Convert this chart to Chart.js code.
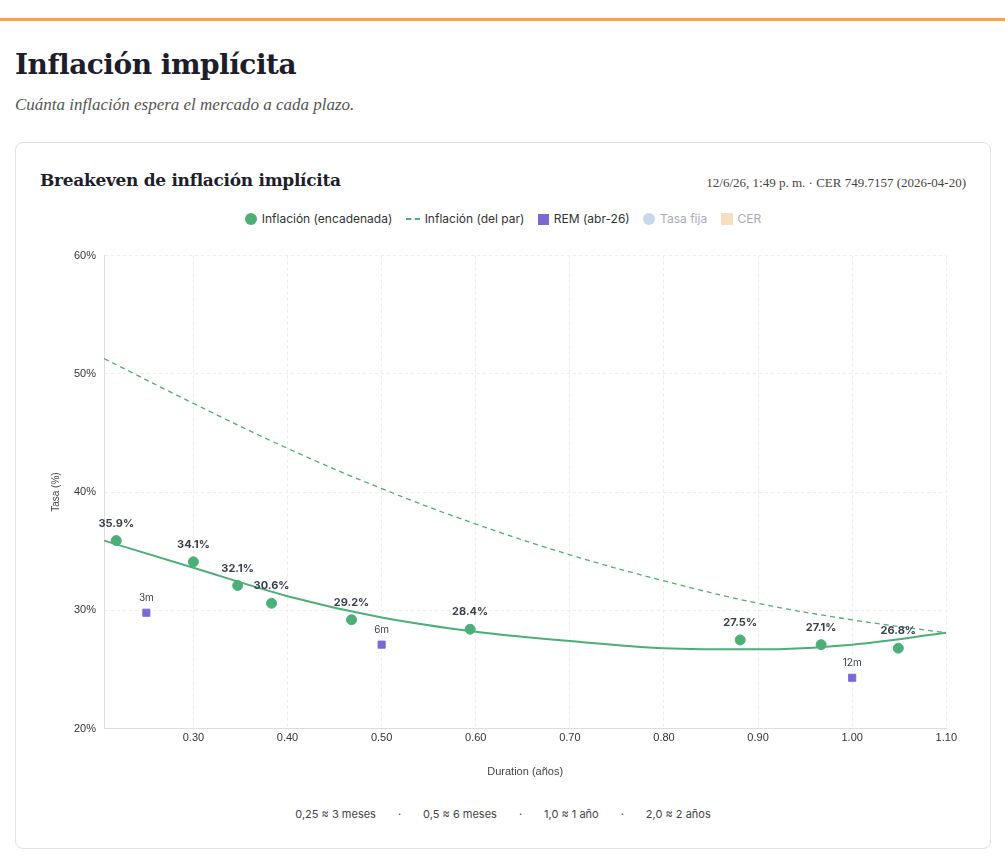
<!DOCTYPE html>
<html>
<head>
<meta charset="utf-8">
<script src="https://cdn.jsdelivr.net/npm/chart.js@4"></script>
<style>
  body { margin: 0; background: #fff; font-family: Inter, "Noto Sans", sans-serif; color: #1d1d2b; }
  .topbar { height: 3px; background: #f2a93b; margin-top: 18px; }
  h1 { font-family: "DejaVu Serif", "Liberation Serif", serif; font-size: 28px; margin: 27px 0 0 15px; font-weight: bold; letter-spacing: -0.5px; }
  .sub { font-family: "Liberation Serif", serif; font-style: italic; font-size: 17px; color: #555; margin: 14px 0 0 15px; }
  .card { position: absolute; left: 15px; top: 142px; width: 974px; height: 705px; border: 1px solid #e2e2e2; border-radius: 8px; }
  .ctitle { position: absolute; left: 24px; top: 27px; font-family: "DejaVu Serif", serif; font-weight: bold; font-size: 17px; letter-spacing: -0.3px; }
  .meta { position: absolute; right: 24px; top: 32px; font-family: "Liberation Serif", serif; font-size: 13px; color: #444; }
  .legend { position: absolute; top: 68px; left: 0; width: 100%; text-align: center; font-size: 12px; color: #333; }
  .legend span { margin: 0 5px; }
  .sw { display: inline-block; vertical-align: -2px; margin-right: 5px; }
  .foot { position: absolute; top: 664px; left: 0; width: 100%; text-align: center; font-size: 11px; color: #444; }
  .foot span { margin: 0 22px; }
  .wrap { position: absolute; left: 30px; top: 98px; width: 914px; height: 542px; }
</style>
</head>
<body>
<div class="topbar"></div>
<h1>Inflación implícita</h1>
<div class="sub">Cuánta inflación espera el mercado a cada plazo.</div>
<div class="card">
  <div class="ctitle">Breakeven de inflación implícita</div>
  <div class="meta">12/6/26, 1:49 p. m. · CER 749.7157 (2026-04-20)</div>
  <div class="legend">
    <span><i class="sw" style="width:12px;height:12px;border-radius:50%;background:#4caf78"></i>Inflación (encadenada)</span>
    <span><i class="sw" style="width:14px;border-top:2px dashed #4caf78;vertical-align:3px"></i>Inflación (del par)</span>
    <span><i class="sw" style="width:11px;height:11px;background:#7b68d6"></i>REM (abr-26)</span>
    <span style="color:#aab"><i class="sw" style="width:12px;height:12px;border-radius:50%;background:#c6d9ea"></i>Tasa fija</span>
    <span style="color:#aab"><i class="sw" style="width:12px;height:12px;background:#f5dfbd"></i>CER</span>
  </div>
  <div class="wrap"><canvas id="c"></canvas></div>
  <div class="foot"><span>0,25 ≈ 3 meses</span>·<span>0,5 ≈ 6 meses</span>·<span>1,0 ≈ 1 año</span>·<span>2,0 ≈ 2 años</span></div>
</div>
<script>
const chainX = [0.218, 0.30, 0.347, 0.383, 0.468, 0.594, 0.881, 0.967, 1.049];
const chainY = [35.9, 34.1, 32.1, 30.6, 29.2, 28.4, 27.5, 27.1, 26.8];
const remX = [0.25, 0.50, 1.00];
const remY = [29.8, 27.1, 24.3];
const remLabels = ['3m', '6m', '12m'];
const fitX = [0.205, 0.30, 0.40, 0.50, 0.60, 0.70, 0.80, 0.90, 1.00, 1.10];
const fitY = [35.9, 33.6, 31.2, 29.4, 28.2, 27.4, 26.8, 26.7, 27.1, 28.1];
const parY = [51.3, 47.5, 43.7, 40.3, 37.3, 34.7, 32.5, 30.6, 29.2, 28.1];
const xTicks = [0.3, 0.4, 0.5, 0.6, 0.7, 0.8, 0.9, 1.0, 1.1];

const green = '#4caf78', purple = '#7b68d6';
const pts = (xs, ys) => xs.map((x, i) => ({ x: x, y: ys[i] }));

const labelPlugin = {
  id: 'labels',
  afterDatasetsDraw(chart) {
    const ctx = chart.ctx;
    ctx.save();
    ctx.textAlign = 'center';
    chart.getDatasetMeta(2).data.forEach((p, i) => {
      ctx.font = 'bold 11px Inter, sans-serif';
      ctx.fillStyle = '#3a3f4a';
      ctx.fillText(chainY[i].toFixed(1) + '%', p.x, p.y - 14);
    });
    chart.getDatasetMeta(3).data.forEach((p, i) => {
      ctx.font = '10px Inter, sans-serif';
      ctx.fillStyle = '#3a3f4a';
      ctx.fillText(remLabels[i], p.x, p.y - 12);
    });
    ctx.restore();
  }
};

new Chart(document.getElementById('c'), {
  type: 'scatter',
  data: {
    datasets: [
      { data: pts(fitX, fitY), showLine: true, borderColor: green, borderWidth: 2, pointRadius: 0, cubicInterpolationMode: 'monotone', fill: false },
      { data: pts(fitX, parY), showLine: true, borderColor: green, borderWidth: 1.3, borderDash: [5, 4], pointRadius: 0, tension: 0.4, fill: false },
      { data: pts(chainX, chainY), backgroundColor: green, borderColor: green, pointRadius: 5 },
      { data: pts(remX, remY), backgroundColor: purple, borderColor: purple, pointStyle: 'rect', pointRadius: 5 }
    ]
  },
  options: {
    responsive: true,
    maintainAspectRatio: false,
    animation: false,
    plugins: { legend: { display: false }, tooltip: { enabled: false } },
    scales: {
      x: {
        type: 'linear', min: 0.205, max: 1.1,
        afterBuildTicks: s => { s.ticks = xTicks.map(v => ({ value: v })); },
        ticks: { callback: v => v.toFixed(2), color: '#333', font: { size: 11 } },
        grid: { color: '#ececec', drawTicks: false },
        border: { color: '#ddd', dash: [3, 3] },
        title: { display: true, text: 'Duration (años)', color: '#444', font: { size: 11 }, padding: { top: 18 } }
      },
      y: {
        min: 20, max: 60,
        ticks: { stepSize: 10, callback: v => v + '%', color: '#333', font: { size: 11 }, padding: 8 },
        grid: { color: '#ececec', drawTicks: false },
        border: { color: '#ddd', dash: [3, 3] },
        title: { display: true, text: 'Tasa (%)', color: '#444', font: { size: 10 } }
      }
    }
  },
  plugins: [labelPlugin]
});
</script>
</body>
</html>
